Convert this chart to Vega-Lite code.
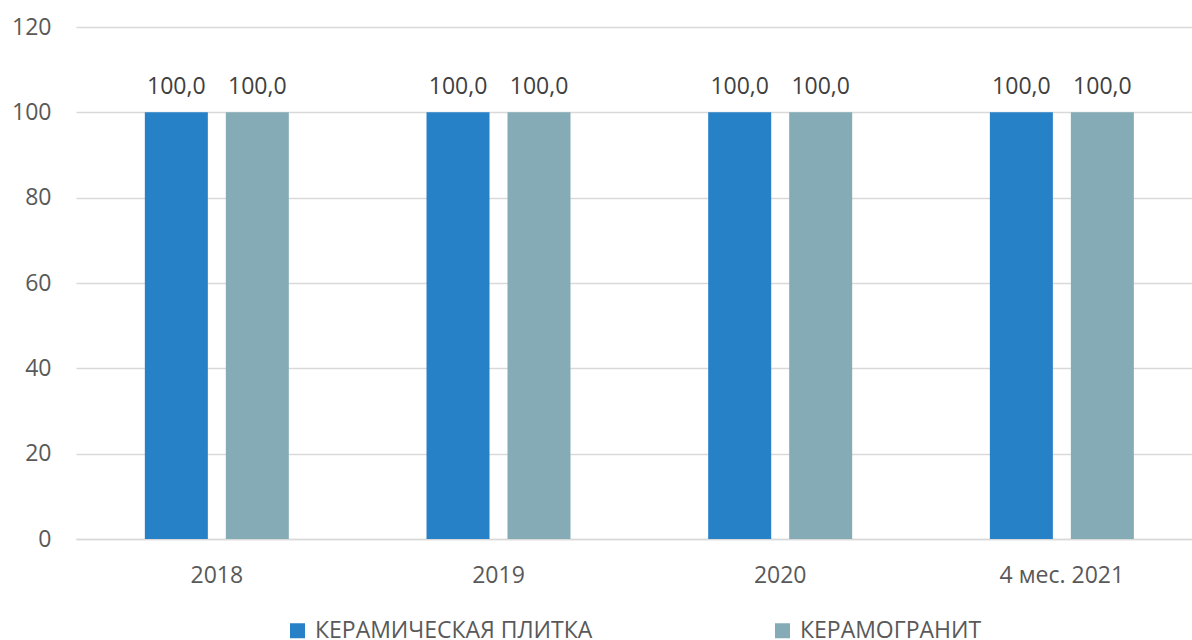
{
  "$schema": "https://vega.github.io/schema/vega-lite/v6.json",
  "width": 1116,
  "height": 512,
  "autosize": {"type": "none"},
  "padding": {"left": 76, "top": 27, "right": 0, "bottom": 101},
  "background": "#ffffff",
  "config": {
    "view": {"stroke": null},
    "font": "Open Sans",
    "locale": {"number": {"decimal": ",", "thousands": " ", "grouping": [3], "currency": ["", ""]}}
  },
  "data": {
    "values": [
      {"period": "2018", "series": "КЕРАМИЧЕСКАЯ ПЛИТКА", "value": 100},
      {"period": "2018", "series": "КЕРАМОГРАНИТ", "value": 100},
      {"period": "2019", "series": "КЕРАМИЧЕСКАЯ ПЛИТКА", "value": 100},
      {"period": "2019", "series": "КЕРАМОГРАНИТ", "value": 100},
      {"period": "2020", "series": "КЕРАМИЧЕСКАЯ ПЛИТКА", "value": 100},
      {"period": "2020", "series": "КЕРАМОГРАНИТ", "value": 100},
      {"period": "4 мес. 2021", "series": "КЕРАМИЧЕСКАЯ ПЛИТКА", "value": 100},
      {"period": "4 мес. 2021", "series": "КЕРАМОГРАНИТ", "value": 100}
    ]
  },
  "encoding": {
    "x": {
      "field": "period", "type": "nominal", "sort": null,
      "scale": {"range": [0, 1126.7], "paddingInner": 0, "paddingOuter": 0},
      "axis": {
        "title": null, "labelAngle": 0, "ticks": false,
        "domainColor": "#D9D9D9", "domainWidth": 1.5,
        "labelFont": "Open Sans", "labelFontSize": 23, "labelColor": "#595959",
        "labelBaseline": "top", "labelPadding": 25
      }
    },
    "xOffset": {
      "field": "series", "type": "nominal", "sort": ["КЕРАМИЧЕСКАЯ ПЛИТКА", "КЕРАМОГРАНИТ"],
      "scale": {"paddingInner": 0.222, "paddingOuter": 0.85}
    },
    "y": {
      "field": "value", "type": "quantitative",
      "scale": {"domain": [0, 120], "nice": false},
      "axis": {
        "title": null, "values": [0, 20, 40, 60, 80, 100, 120],
        "domain": false, "ticks": false, "grid": true,
        "gridColor": "#D9D9D9", "gridWidth": 1.5,
        "labelFont": "Open Sans", "labelFontSize": 23, "labelColor": "#595959",
        "labelPadding": 25
      }
    }
  },
  "layer": [
    {
      "mark": {"type": "bar"},
      "encoding": {
        "color": {
          "field": "series", "type": "nominal",
          "scale": {"domain": ["КЕРАМИЧЕСКАЯ ПЛИТКА", "КЕРАМОГРАНИТ"], "range": ["#2681C7", "#85ACB6"]},
          "legend": {
            "title": null, "orient": "none", "direction": "horizontal",
            "legendX": 210, "legendY": 592,
            "symbolType": "square", "symbolSize": 225, "symbolStrokeWidth": 0,
            "labelFont": "Open Sans", "labelFontSize": 23, "labelColor": "#595959",
            "labelOffset": 6, "columnPadding": 178, "padding": 0, "labelLimit": 400
          }
        }
      }
    },
    {
      "mark": {"type": "text", "baseline": "alphabetic", "dy": -18, "font": "Open Sans", "fontSize": 23, "color": "#404040"},
      "encoding": {
        "text": {"field": "value", "type": "quantitative", "format": ".1f"}
      }
    }
  ]
}
